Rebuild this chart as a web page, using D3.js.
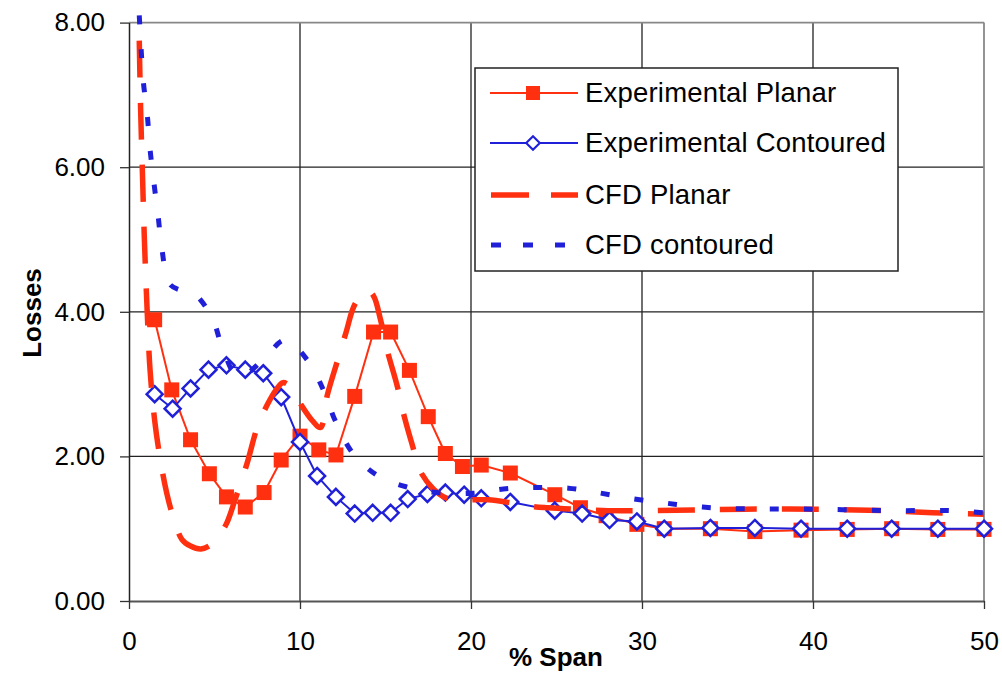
<!DOCTYPE html>
<html>
<head>
<meta charset="utf-8">
<script src="https://cdn.jsdelivr.net/npm/d3@7"></script>
<style>
  body { margin: 0; background: #fff; }
  svg { font-family: "Liberation Sans", Arial, sans-serif; }
</style>
</head>
<body>
<div id="chart"></div>
<script>
// values
var expPlanarX = [1.5, 2.5, 3.6, 4.7, 5.7, 6.8, 7.9, 8.9, 10.0, 11.1, 12.1, 13.2, 14.3, 15.3, 16.4, 17.5, 18.5, 19.5, 20.6, 22.3, 24.9, 26.4, 27.9, 29.7, 31.3, 34.0, 36.6, 39.3, 42.0, 44.6, 47.3, 50.0];
var expPlanarY = [3.89, 2.92, 2.23, 1.76, 1.44, 1.30, 1.50, 1.95, 2.28, 2.09, 2.02, 2.83, 3.72, 3.72, 3.19, 2.55, 2.04, 1.86, 1.88, 1.77, 1.47, 1.29, 1.18, 1.06, 1.00, 1.00, 0.96, 0.98, 0.99, 1.00, 0.99, 0.99];

var expContX = [1.5, 2.55, 3.6, 4.65, 5.7, 6.8, 7.85, 8.9, 10.0, 11.0, 12.1, 13.2, 14.25, 15.3, 16.3, 17.45, 18.5, 19.6, 20.6, 22.3, 24.9, 26.5, 28.1, 29.7, 31.3, 34.0, 36.6, 39.3, 42.0, 44.6, 47.3, 50.0];
var expContY = [2.86, 2.66, 2.94, 3.20, 3.26, 3.20, 3.15, 2.82, 2.20, 1.73, 1.44, 1.21, 1.22, 1.22, 1.41, 1.48, 1.50, 1.47, 1.42, 1.37, 1.25, 1.21, 1.12, 1.10, 1.00, 1.01, 1.01, 1.00, 1.00, 1.00, 1.00, 1.00];

var cfdPlanarX = [0.6, 0.68, 0.8, 0.9, 1.03, 1.23, 1.5, 1.8, 2.2, 2.6, 3.1, 3.6, 4.2, 4.8, 5.2, 5.7, 6.2, 6.9, 7.5, 8.1, 8.6, 9.0, 9.5, 10.1, 10.7, 11.2, 11.6, 12.2, 12.7, 13.2, 13.9, 14.3, 14.7, 15.1, 15.7, 16.1, 16.6, 17.0, 17.8, 18.6, 19.5, 21.0, 22.3, 23.5, 24.5, 26, 28, 30, 33, 36, 40, 44, 47, 50];
var cfdPlanarY = [7.75, 6.8, 5.8, 5.0, 4.2, 3.2, 2.5, 2.0, 1.5, 1.15, 0.85, 0.76, 0.72, 0.78, 0.88, 1.07, 1.4, 1.9, 2.4, 2.72, 2.92, 3.02, 2.95, 2.7, 2.5, 2.4, 2.85, 3.33, 3.72, 4.1, 4.3, 4.22, 3.9, 3.47, 2.96, 2.55, 2.13, 1.81, 1.55, 1.42, 1.40, 1.40, 1.36, 1.31, 1.29, 1.27, 1.25, 1.25, 1.26, 1.27, 1.27, 1.25, 1.22, 1.2];

var cfdContX = [0.6, 0.7, 0.84, 1.07, 1.23, 1.46, 1.71, 1.93, 2.36, 3.0, 3.67, 4.84, 5.48, 6.4, 7.86, 9.12, 10.5, 11.4, 12.05, 13.1, 14.5, 16.2, 18.0, 20.1, 21.9, 23.7, 25.7, 27.4, 29.3, 31.2, 33.0, 35.0, 40.0, 45.0, 48.0, 50.0];
var cfdContY = [8.1, 7.67, 7.18, 6.72, 6.25, 5.78, 5.31, 4.86, 4.39, 4.3, 4.28, 3.93, 3.49, 3.1, 3.34, 3.61, 3.31, 2.9, 2.5, 2.04, 1.74, 1.58, 1.5, 1.49, 1.55, 1.57, 1.56, 1.50, 1.42, 1.36, 1.31, 1.28, 1.27, 1.25, 1.25, 1.22];

var xTicks = [0, 10, 20, 30, 40, 50];
var yTicks = [0, 2, 4, 6, 8];
var legendNames = ["Experimental Planar", "Experimental Contoured", "CFD Planar", "CFD contoured"];

var RED = "#ff3010", BLUE = "#2020d8";

var width = 1002, height = 673;
var svg = d3.select("#chart").append("svg")
    .attr("width", width)
    .attr("height", height);

var x = d3.scaleLinear().domain([0, 50]).range([129, 984]);
var y = d3.scaleLinear().domain([0, 8]).range([601, 22.6]);

function zip(xs, ys) { return xs.map(function(d, i) { return [d, ys[i]]; }); }

// grid
svg.append("g").selectAll("line.v")
    .data(xTicks.filter(function(d){ return d > 0 && d < 50; }))
    .enter().append("line")
    .attr("x1", function(d){ return x(d); }).attr("x2", function(d){ return x(d); })
    .attr("y1", y(8)).attr("y2", y(0))
    .attr("stroke", "#222").attr("stroke-width", 1.3);
svg.append("g").selectAll("line.h")
    .data(yTicks.filter(function(d){ return d > 0 && d < 8; }))
    .enter().append("line")
    .attr("x1", x(0)).attr("x2", x(50))
    .attr("y1", function(d){ return y(d); }).attr("y2", function(d){ return y(d); })
    .attr("stroke", "#222").attr("stroke-width", 1.3);
// frame: top / right grey
svg.append("line").attr("x1", x(0)).attr("x2", x(50)).attr("y1", y(8)).attr("y2", y(8))
    .attr("stroke", "#888").attr("stroke-width", 1.8);
svg.append("line").attr("x1", x(50)).attr("x2", x(50)).attr("y1", y(8)).attr("y2", y(0))
    .attr("stroke", "#888").attr("stroke-width", 1.8);

// axes
var yAxis = svg.append("g")
    .attr("transform", "translate(" + x(0) + ",0)")
    .call(d3.axisLeft(y).tickValues(yTicks).tickFormat(d3.format(".2f")).tickSize(9).tickPadding(15).tickSizeOuter(0));
var xAxis = svg.append("g")
    .attr("transform", "translate(0," + y(0) + ")")
    .call(d3.axisBottom(x).tickValues(xTicks).tickSize(8).tickPadding(23).tickSizeOuter(0));
[xAxis, yAxis].forEach(function(a) {
    a.selectAll("text").attr("font-size", "26px").attr("fill", "#000")
        .attr("font-family", "'Liberation Sans', Arial, sans-serif");
    a.selectAll("line").attr("stroke", "#333").attr("stroke-width", 1.3);
});
yAxis.select(".domain").attr("stroke", "#222").attr("stroke-width", 1.5);
xAxis.select(".domain").attr("stroke", "#555").attr("stroke-width", 2.2);

// titles
svg.append("text")
    .attr("transform", "translate(41,313) rotate(-90)")
    .attr("text-anchor", "middle")
    .attr("font-size", "26px").attr("font-weight", "bold")
    .text("Losses");
svg.append("text")
    .attr("x", 556).attr("y", 666)
    .attr("text-anchor", "middle")
    .attr("font-size", "26px").attr("font-weight", "bold")
    .text("% Span");

var line = d3.line().x(function(d){ return x(d[0]); }).y(function(d){ return y(d[1]); });
var smooth = d3.line().curve(d3.curveCatmullRom.alpha(0.5))
    .x(function(d){ return x(d[0]); }).y(function(d){ return y(d[1]); });

var diamond = "M0,-8L8,0L0,8L-8,0Z";

// Experimental Planar
var ep = zip(expPlanarX, expPlanarY);
svg.append("path").attr("d", line(ep)).attr("fill", "none")
    .attr("stroke", RED).attr("stroke-width", 2);
svg.append("g").selectAll("rect").data(ep).enter().append("rect")
    .attr("x", function(d){ return x(d[0]) - 7.5; })
    .attr("y", function(d){ return y(d[1]) - 7.5; })
    .attr("width", 15).attr("height", 15)
    .attr("fill", RED);

// Experimental Contoured
var ec = zip(expContX, expContY);
svg.append("path").attr("d", line(ec)).attr("fill", "none")
    .attr("stroke", BLUE).attr("stroke-width", 2);
svg.append("g").selectAll("path").data(ec).enter().append("path")
    .attr("d", diamond)
    .attr("transform", function(d){ return "translate(" + x(d[0]) + "," + y(d[1]) + ")"; })
    .attr("fill", "#fff").attr("stroke", BLUE).attr("stroke-width", 2.5);

// CFD Planar
svg.append("path").attr("d", smooth(zip(cfdPlanarX, cfdPlanarY))).attr("fill", "none")
    .attr("stroke", RED).attr("stroke-width", 5.5)
    .attr("stroke-dasharray", "37,25");

// CFD contoured
svg.append("path").attr("d", smooth(zip(cfdContX, cfdContY))).attr("fill", "none")
    .attr("stroke", BLUE).attr("stroke-width", 5)
    .attr("stroke-dasharray", "9,25");

// legend
var lg = svg.append("g").attr("class", "legend");
lg.append("rect").attr("x", 475).attr("y", 68).attr("width", 423).attr("height", 203)
    .attr("fill", "#fff").attr("stroke", "#222").attr("stroke-width", 1.5);
var rowY = [93, 143, 195, 245];
legendNames.forEach(function(name, i) {
    var g = lg.append("g").attr("transform", "translate(0," + rowY[i] + ")");
    var l = g.append("line").attr("x1", 490).attr("x2", 578).attr("y1", 0).attr("y2", 0);
    if (i === 0) {
        l.attr("stroke", RED).attr("stroke-width", 2);
        g.append("rect").attr("x", 526).attr("y", -7).attr("width", 14).attr("height", 14).attr("fill", RED);
    } else if (i === 1) {
        l.attr("stroke", BLUE).attr("stroke-width", 2);
        g.append("path").attr("d", diamond).attr("transform", "translate(533,0) scale(0.85)")
            .attr("fill", "#fff").attr("stroke", BLUE).attr("stroke-width", 2.5);
    } else if (i === 2) {
        l.attr("x1", 491).attr("x2", 578).attr("stroke", RED).attr("stroke-width", 5.5).attr("stroke-dasharray", "38,22");
    } else {
        l.attr("x1", 491).attr("stroke", BLUE).attr("stroke-width", 5).attr("stroke-dasharray", "10,22");
    }
    g.append("text").attr("x", 585).attr("y", 9)
        .attr("font-size", "27.5px").attr("fill", "#000")
        .attr("letter-spacing", "0.2px")
        .text(name);
});
</script>
</body>
</html>
